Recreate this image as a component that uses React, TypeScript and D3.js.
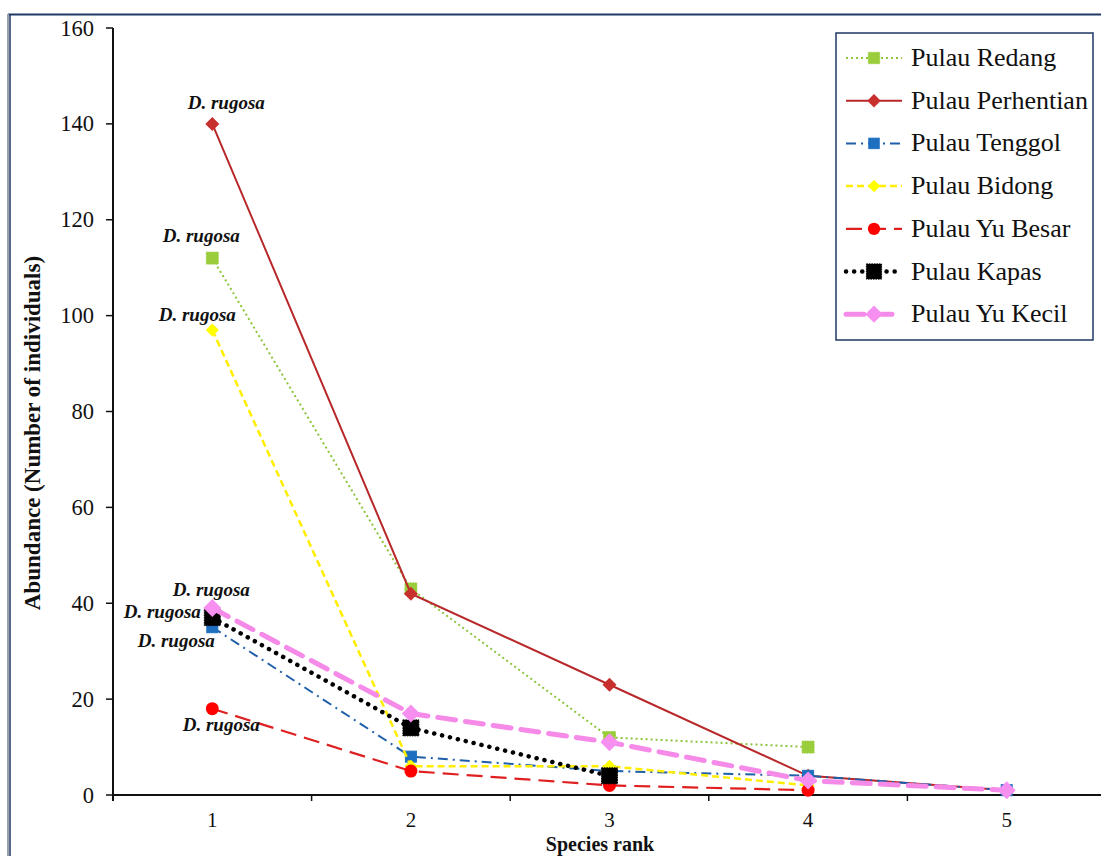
import React from "react";
import * as d3 from "d3";

const ranks = ["1", "2", "3", "4", "5"];
const yTicks = [0, 20, 40, 60, 80, 100, 120, 140, 160];

const redang = [112, 43, 12, 10];
const perhentian = [140, 42, 23, 4, 1];
const tenggol = [35, 8, 5, 4, 1];
const bidong = [97, 6, 6, 2];
const yuBesar = [18, 5, 2, 1];
const kapas = [37, 14, 4];
const yuKecil = [39, 17, 11, 3, 1];

const seriesNames = [
  "Pulau Redang",
  "Pulau Perhentian",
  "Pulau Tenggol",
  "Pulau Bidong",
  "Pulau Yu Besar",
  "Pulau Kapas",
  "Pulau Yu Kecil",
];

type Style = {
  color: string;
  width: number;
  dash: string;
  cap: "butt" | "round";
  marker: "square" | "diamond" | "circle";
  size: number;
  mcolor: string;
};

const styles: Style[] = [
  { color: "#8cc43c", width: 2, dash: "2 3", cap: "butt", marker: "square", size: 12, mcolor: "#9acd3c" },
  { color: "#b8282a", width: 2, dash: "", cap: "butt", marker: "diamond", size: 12, mcolor: "#c8302e" },
  { color: "#1f5fa8", width: 2, dash: "10 5 2 5", cap: "butt", marker: "square", size: 11, mcolor: "#1f6fc0" },
  { color: "#ffee00", width: 2.5, dash: "7 4", cap: "butt", marker: "diamond", size: 11, mcolor: "#ffff00" },
  { color: "#e02020", width: 2.2, dash: "16 8", cap: "butt", marker: "circle", size: 13, mcolor: "#ff0000" },
  { color: "#000000", width: 4.5, dash: "0.1 8", cap: "round", marker: "square", size: 16, mcolor: "#000000" },
  { color: "#f58ae8", width: 5, dash: "18 10", cap: "round", marker: "diamond", size: 16, mcolor: "#f78ff0" },
];

const seriesValues = [redang, perhentian, tenggol, bidong, yuBesar, kapas, yuKecil];

// label offsets (dx, dy) relative to the rank-1 point for each series
const labelOffsets: [number, number][] = [
  [-11, -16],
  [14, -15],
  [-36, 20],
  [-15, -9],
  [9, 22],
  [-50, 0],
  [-1, -12],
];

const W = 1101;
const H = 856;
const left = 113;
const right = 1106;
const top = 28;
const bottom = 795;
const FONT = "Liberation Serif, DejaVu Serif, Noto Serif, serif";

export default function App() {
  const x = d3.scaleBand<string>().domain(ranks).range([left, right]).padding(0);
  const y = d3.scaleLinear().domain([0, 160]).range([bottom, top]);
  const cx = (i: number) => (x(ranks[i]) as number) + x.bandwidth() / 2;

  const marker = (s: Style, px: number, py: number, key: string, scale = 1) => {
    const sz = s.size * scale;
    if (s.marker === "square")
      return (
        <rect key={key} x={px - sz / 2} y={py - sz / 2} width={sz} height={sz} fill={s.mcolor}
          stroke={s.mcolor} strokeWidth={1} strokeDasharray={s.color === "#000000" || s.mcolor === "#9acd3c" ? "1.5 1" : ""} />
      );
    if (s.marker === "circle")
      return <circle key={key} cx={px} cy={py} r={sz / 2} fill={s.mcolor} />;
    const h = sz / 2 + 1;
    return (
      <path key={key} d={`M${px},${py - h}L${px + h},${py}L${px},${py + h}L${px - h},${py}Z`} fill={s.mcolor} />
    );
  };

  const line = d3
    .line<number>()
    .x((_, i) => cx(i))
    .y((d) => y(d));

  const legendX = 836;
  const legendY = 33;
  const legendRowY = (i: number) => 58 + i * 42.7;

  return (
    <svg width={W} height={H} fontFamily={FONT} style={{ position: "absolute", left: 0, top: 0, background: "#fff" }}>
      <rect x={0} y={0} width={W} height={H} fill="#fff" />
      {/* outer frame */}
      <line x1={8} x2={W} y1={14.5} y2={14.5} stroke="#1f3864" strokeWidth={2} />
      <line x1={8} x2={8} y1={14} y2={H} stroke="#9aa3ad" strokeWidth={2} />
      <line x1={10} x2={10} y1={14} y2={H} stroke="#1f3864" strokeWidth={1.5} />

      {/* y axis */}
      <line x1={left} x2={left} y1={top} y2={bottom + 6} stroke="#111" strokeWidth={2} />
      {yTicks.map((t) => (
        <g key={t}>
          <line x1={left - 7} x2={left} y1={y(t)} y2={y(t)} stroke="#111" strokeWidth={1.5} />
          <text x={94} y={y(t) + 7.5} textAnchor="end" fontSize={22.5} fill="#111">{t}</text>
        </g>
      ))}
      {/* x axis */}
      <line x1={left} x2={W} y1={bottom} y2={bottom} stroke="#111" strokeWidth={2} />
      {ranks.map((r, i) => (
        <g key={r}>
          <line x1={x(r) as number} x2={x(r) as number} y1={bottom} y2={bottom + 6} stroke="#111" strokeWidth={1.5} />
          <text x={cx(i)} y={827} textAnchor="middle" fontSize={21} fill="#111">{r}</text>
        </g>
      ))}
      <text x={600} y={851} textAnchor="middle" fontSize={20} fontWeight="bold" fill="#111">Species rank</text>
      <text transform={`translate(40,433) rotate(-90)`} textAnchor="middle" fontSize={23} fontWeight="bold" fill="#111">
        Abundance (Number of individuals)
      </text>

      {/* series */}
      {seriesValues.map((vals, si) => {
        const s = styles[si];
        return (
          <g key={si}>
            <path d={line(vals) || ""} fill="none" stroke={s.color} strokeWidth={s.width}
              strokeDasharray={s.dash} strokeLinecap={s.cap} />
            {vals.map((v, i) => marker(s, cx(i), y(v), `${si}-${i}`))}
          </g>
        );
      })}

      {/* annotations */}
      {seriesValues.map((vals, si) => (
        <text key={si} x={cx(0) + labelOffsets[si][0]} y={y(vals[0]) + labelOffsets[si][1]} textAnchor="middle"
          fontSize={19} fontWeight="bold" fontStyle="italic" fill="#111">
          D. rugosa
        </text>
      ))}

      {/* legend */}
      <rect x={legendX} y={legendY} width={257} height={307} fill="#fff" stroke="#1f3864" strokeWidth={1.5} />
      {seriesNames.map((n, i) => {
        const s = styles[i];
        const ly = legendRowY(i);
        return (
          <g key={n}>
            <line x1={846} x2={902} y1={ly} y2={ly} stroke={s.color} strokeWidth={s.width}
              strokeDasharray={s.dash} strokeLinecap={s.cap} />
            {marker(s, 874, ly, `lg-${i}`, 0.95)}
            <text x={911} y={ly + 8} fontSize={26} fill="#111">{n}</text>
          </g>
        );
      })}
    </svg>
  );
}
